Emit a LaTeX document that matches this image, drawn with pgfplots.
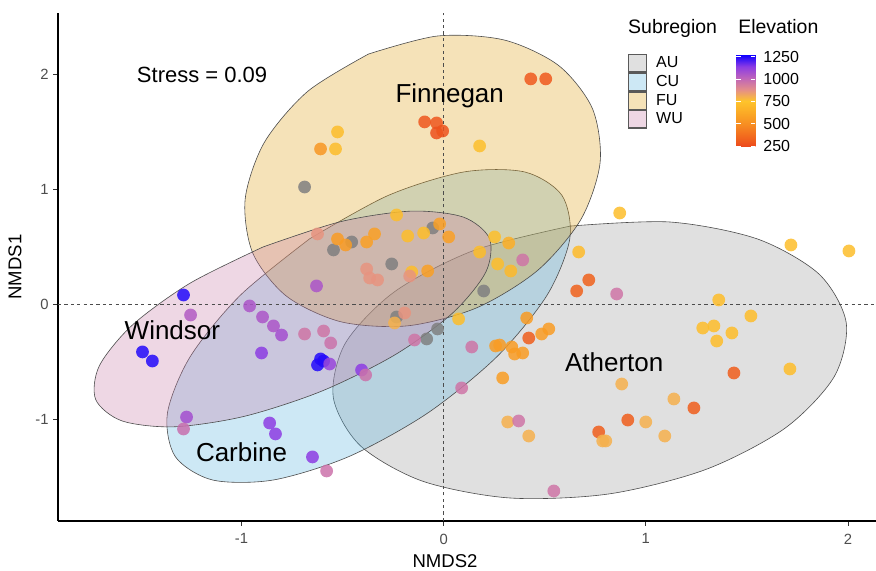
\documentclass[border=0pt]{standalone}
\usepackage{pgfplots}
\pgfplotsset{compat=1.18}
\usepackage{fontspec}
\setmainfont{Liberation Sans}
\usetikzlibrary{calc}

\definecolor{fillAU}{RGB}{152,152,152}
\definecolor{fillCU}{RGB}{88,178,222}
\definecolor{fillFU}{RGB}{222,158,20}
\definecolor{fillWU}{RGB}{198,122,165}
\definecolor{ticktext}{RGB}{77,77,77}
\definecolor{tickline}{RGB}{51,51,51}
\definecolor{naGray}{RGB}{128,128,128}

\pgfplotsset{
  colormap={elev}{
    rgb255=(236,72,28) rgb255=(242,108,30) rgb255=(247,142,34)
    rgb255=(251,170,38) rgb255=(254,196,44) rgb255=(228,142,138)
    rgb255=(190,100,186) rgb255=(140,60,228) rgb255=(15,0,255)
  }
}

\begin{document}
\begin{tikzpicture}
\begin{axis}[
  name=main,
  scale only axis, width=613.5pt, height=381pt,
  xmin=-1.908, xmax=2.139, ymin=-1.887, ymax=2.53,
  axis lines*=left,
  axis line style={black, line width=0.8pt},
  xtick={-1,0,1,2}, xticklabels={-1,0,1,2},
  ytick={-1,0,1,2}, yticklabels={-1,0,1,2},
  tick align=outside, major tick length=3.5pt,
  tick style={tickline, line width=0.6pt},
  ticklabel style={text=ticktext, font=\fontsize{11.1}{13}\selectfont},
  xticklabel style={yshift=-2.5pt},
  xlabel={NMDS2}, ylabel={NMDS1},
  label style={font=\fontsize{13.9}{15}\selectfont},
  xlabel style={at={(axis description cs:0.4731,-0.0797)}, anchor=center},
  ylabel style={at={(axis description cs:-0.0526,0.5)}, anchor=center},
  colormap name=elev,
  point meta min=240, point meta max=1270,
  colorbar,
  colorbar style={
    at={($(parent axis.north west)+(500.25pt,-31.5pt)$)}, anchor=north west,
    scale only axis, width=14.25pt, height=69pt,
    ytick={250,500,750,1000,1250},
    yticklabels={250,500,750,1000,1250},
    yticklabel pos=right, ytick pos=both,
    tick align=inside, major tick length=3.2pt,
    tick style={white, line width=0.75pt},
    axis line style={draw=none},
    axis on top,
    yticklabel style={font=\fontsize{12}{13}\selectfont, text=black, anchor=west, xshift=2.5pt},
  },
  legend style={at={(0.6968,0.9193)}, anchor=north west, draw=none, fill=none,
    inner sep=0pt, outer sep=0pt, row sep=0pt, column sep=6.75pt,
    font=\fontsize{12}{13}\selectfont, nodes={inner sep=0pt}},
  legend cell align=left,
  legend image code/.code={
    \draw[#1, line width=0.9pt, draw=black!65] (0pt,-6.55pt) rectangle (13.5pt,6.55pt);},
]

% 95% ellipses of the four subregions (AU, CU, FU, WU)
\addplot[smooth, draw=black!70, line width=0.45pt, fill=fillAU, fill opacity=0.3]
  coordinates {(0.6263,0.6773) (0.1480,0.4646) (-0.2426,0.1070) (-0.4863,-0.3410)
  (-0.5460,-0.8113) (-0.4125,-1.2322) (-0.1062,-1.5396) (0.3264,-1.6868)
  (0.8193,-1.6513) (1.2976,-1.4386) (1.6882,-1.0810) (1.9319,-0.6330)
  (1.9916,-0.1627) (1.8581,0.2582) (1.5518,0.5656) (1.1192,0.7128) (0.6263,0.6773)};
\addlegendentry{AU}
\addplot[smooth, draw=black!70, line width=0.45pt, fill=fillCU, fill opacity=0.3]
  coordinates {(-0.6629,0.5667) (-1.0068,0.0745) (-1.2539,-0.4581) (-1.3667,-0.9502)
  (-1.3279,-1.3267) (-1.1435,-1.5304) (-0.8415,-1.5301) (-0.4680,-1.3261)
  (-0.0797,-0.9493) (0.2642,-0.4571) (0.5113,0.0755) (0.6241,0.5676)
  (0.5853,0.9441) (0.4009,1.1478) (0.0989,1.1475) (-0.2746,0.9435) (-0.6629,0.5667)};
\addlegendentry{CU}
\addplot[smooth, draw=black!70, line width=0.45pt, fill=fillFU, fill opacity=0.3]
  coordinates {(-0.372,2.173) (-0.673,1.848) (-0.887,1.405) (-0.982,0.911)
  (-0.944,0.441) (-0.777,0.067) (-0.508,-0.155) (-0.178,-0.190)
  (0.164,-0.033) (0.465,0.292) (0.679,0.735) (0.774,1.229)
  (0.736,1.699) (0.569,2.073) (0.300,2.295) (-0.030,2.330) (-0.372,2.173)};
\addlegendentry{FU}
\addplot[smooth, draw=black!70, line width=0.45pt, fill=fillWU, fill opacity=0.3]
  coordinates {(-0.8933,0.4958) (-1.2550,0.1803) (-1.5395,-0.1824) (-1.7034,-0.5373)
  (-1.7217,-0.8301) (-1.5918,-1.0165) (-1.3333,-1.0680) (-0.9856,-0.9767)
  (-0.6017,-0.7566) (-0.2400,-0.4411) (0.0445,-0.0784) (0.2084,0.2765)
  (0.2267,0.5693) (0.0968,0.7557) (-0.1617,0.8072) (-0.5094,0.7159) (-0.8933,0.4958)};
\addlegendentry{WU}

% reference lines through the origin
\addplot[forget plot, black!70, line width=0.5pt, dash pattern=on 2.4pt off 2.4pt]
  coordinates {(0,-1.887) (0,2.53)};
\addplot[forget plot, black!70, line width=0.5pt, dash pattern=on 2.4pt off 2.4pt]
  coordinates {(-1.908,0) (2.139,0)};

% sites without an elevation record
\addplot[forget plot, only marks, mark=*, mark size=4.8pt,
  mark options={draw opacity=0, fill=naGray, fill opacity=0.85}] coordinates {
  (-0.688,1.017) (-0.455,0.539) (-0.545,0.470) (-0.054,0.661) (-0.257,0.348)
  (0.198,0.113) (-0.233,-0.113) (-0.030,-0.217) (-0.084,-0.304)};

% sites coloured by elevation (m)
\addplot[forget plot, scatter, only marks, mark=*, mark size=4.8pt,
  scatter src=explicit, scatter/use mapped color={draw=mapped color, fill=mapped color},
  mark options={draw opacity=0, fill opacity=0.85}] table[x=x, y=y, meta=e] {
x y e
0.431 1.957 300
0.505 1.957 300
-0.094 1.583 290
-0.035 1.574 290
-0.035 1.487 270
-0.005 1.504 280
-0.525 1.496 720
-0.609 1.348 540
-0.535 1.348 720
0.178 1.374 730
-0.233 0.774 720
-0.624 0.609 870
-0.525 0.565 560
-0.485 0.513 560
-0.381 0.539 580
-0.342 0.609 580
-0.178 0.591 720
-0.099 0.617 720
-0.020 0.696 580
0.025 0.583 580
0.178 0.452 720
-0.381 0.304 870
-0.366 0.226 870
-0.327 0.209 870
-0.158 0.278 720
-0.168 0.243 870
-0.079 0.287 580
-0.629 0.157 1060
0.252 0.583 730
0.322 0.530 650
0.267 0.348 720
0.332 0.287 700
0.391 0.383 960
-1.287 0.078 1250
-1.252 -0.096 1040
-0.960 -0.017 1060
-0.896 -0.113 1060
-0.842 -0.191 1060
-0.802 -0.270 1080
-0.688 -0.261 960
-0.594 -0.235 960
-0.559 -0.339 970
-0.901 -0.426 1140
-1.490 -0.417 1250
-1.441 -0.496 1250
-0.609 -0.478 1250
-0.624 -0.530 1250
-0.594 -0.496 1250
-0.564 -0.522 1110
-0.406 -0.574 1140
-0.386 -0.617 970
-0.193 -0.078 870
-0.243 -0.165 800
0.074 -0.130 720
-0.144 -0.313 960
0.139 -0.374 960
0.089 -0.730 960
-1.272 -0.983 1080
-1.287 -1.087 980
-0.861 -1.035 1140
-0.832 -1.130 1140
-0.649 -1.330 1140
-0.579 -1.452 970
0.871 0.791 720
0.668 0.452 710
0.718 0.209 330
0.658 0.113 330
0.856 0.087 960
0.411 -0.122 560
0.421 -0.296 320
0.485 -0.261 560
0.520 -0.217 560
0.257 -0.365 560
0.277 -0.357 560
0.337 -0.374 560
0.351 -0.435 560
0.391 -0.426 560
0.292 -0.643 570
1.718 0.513 720
2.005 0.461 720
1.361 0.035 720
1.520 -0.104 720
1.282 -0.209 720
1.337 -0.191 720
1.426 -0.252 720
1.351 -0.322 720
1.436 -0.600 320
1.713 -0.565 720
0.881 -0.696 800
1.139 -0.826 800
1.238 -0.904 320
0.911 -1.009 320
1.000 -1.026 800
0.767 -1.113 320
0.787 -1.191 800
0.802 -1.191 800
1.094 -1.148 800
0.545 -1.626 960
0.317 -1.026 800
0.371 -1.017 960
0.421 -1.148 800
};

% annotations
\node[anchor=base, font=\fontsize{19.5}{21}\selectfont] at (axis cs:0.030,1.748) {Finnegan};
\node[anchor=base, font=\fontsize{19.5}{21}\selectfont] at (axis cs:-1.342,-0.313) {Windsor};
\node[anchor=base, font=\fontsize{19.5}{21}\selectfont] at (axis cs:0.844,-0.591) {Atherton};
\node[anchor=base, font=\fontsize{19.5}{21}\selectfont] at (axis cs:-1.0,-1.374) {Carbine};
\node[anchor=base, font=\fontsize{16.5}{18}\selectfont] at (axis cs:-1.195,1.922) {Stress = 0.09};

% legend titles
\node[anchor=base west, inner sep=0pt, font=\fontsize{14.6}{16}\selectfont] at (rel axis cs:0.6968,0.9606) {Subregion};
\node[anchor=base west, inner sep=0pt, font=\fontsize{14.6}{16}\selectfont] at (rel axis cs:0.8313,0.9606) {Elevation};
\end{axis}
\pgfresetboundingbox
\path[use as bounding box] ($(main.south west)+(-43.5pt,-37.5pt)$) rectangle ($(main.north east)+(0pt,9.75pt)$);
\end{tikzpicture}
\end{document}
